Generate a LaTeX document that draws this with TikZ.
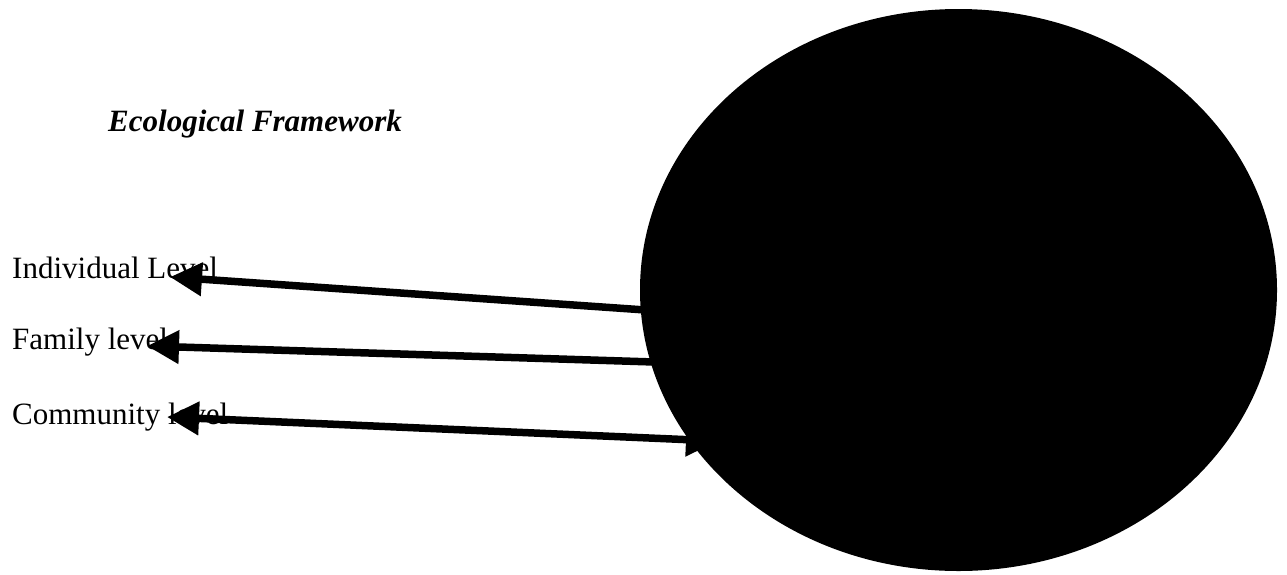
\documentclass[tikz,border=0pt]{standalone}
\usepackage{fontspec}
\setmainfont{Liberation Serif}
\usetikzlibrary{arrows.meta,shapes.geometric}
\tikzset{
  lbl/.style={anchor=base west,inner sep=0pt,font=\fontsize{31}{36}\selectfont},
  ttl/.style={anchor=base west,inner sep=0pt,font=\fontsize{31}{36}\selectfont\bfseries\itshape},
  arr/.style={line width=7.5pt,-{Triangle[length=32pt,width=32pt]}},
  darr/.style={line width=7.5pt,{Triangle[length=32pt,width=32pt]}-{Triangle[length=32pt,width=32pt]}},
  blob/.style={ellipse,fill=black,draw=none,inner sep=0pt,minimum width=637pt,minimum height=562pt}
}
\begin{document}
\begin{tikzpicture}[x=1pt,y=-1pt]
\useasboundingbox (0,0) rectangle (1287,574);
\node[ttl] (title) at (108,131) {Ecological Framework};
\node[lbl] (ind) at (12,278) {Individual Level};
\node[lbl] (fam) at (12,349) {Family level};
\node[lbl] (com) at (12,424) {Community level};
\coordinate (s1) at (660,311);
\coordinate (t1) at (170,277);
\coordinate (s2) at (670,362.5);
\coordinate (t2) at (147,346);
\coordinate (s3) at (718,441);
\coordinate (t3) at (167,417);
\draw[arr] (s1) -- (t1);
\draw[arr] (s2) -- (t2);
\draw[darr] (t3) -- (s3);
\node[blob] (eco) at (958.5,290) {};
\end{tikzpicture}
\end{document}
